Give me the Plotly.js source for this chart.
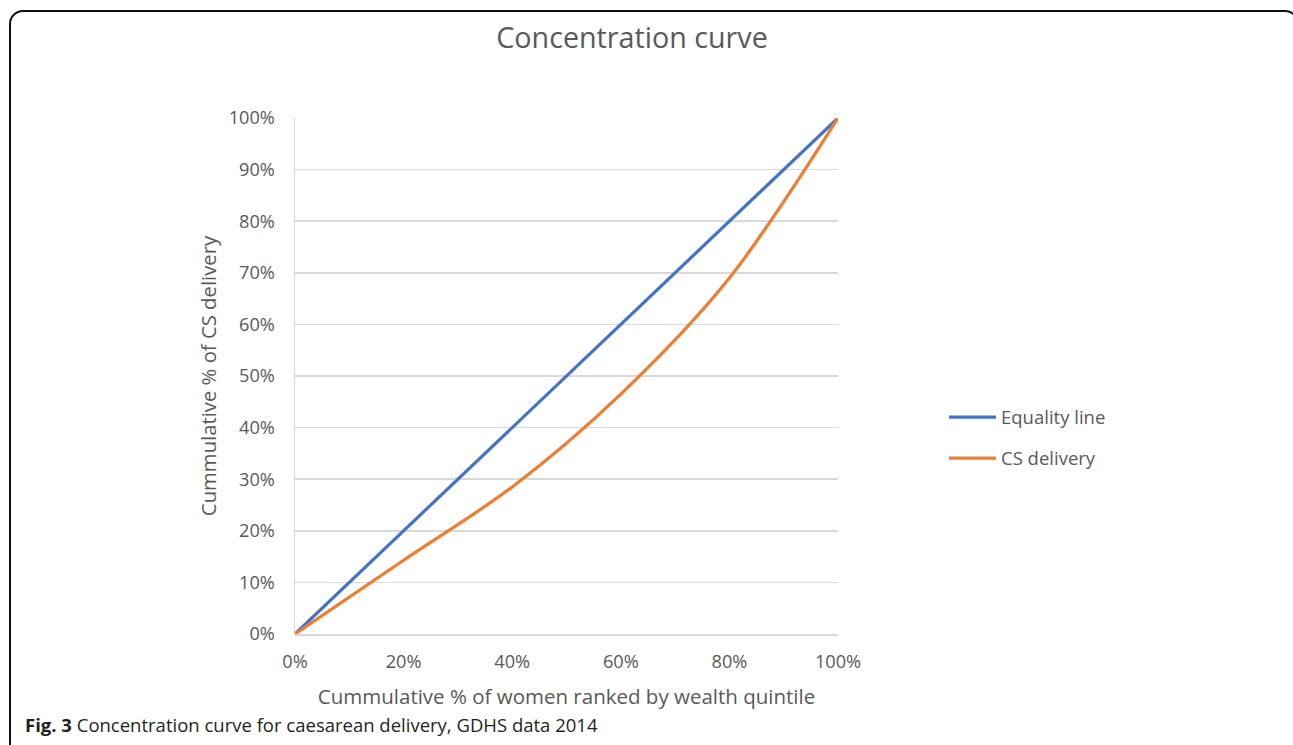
<!DOCTYPE html>
<html>
<head>
<meta charset="utf-8">
<script src="https://cdn.plot.ly/plotly-3.0.1.min.js"></script>
<style>
html,body{margin:0;padding:0;background:#fff;}
#frame{position:absolute;left:9px;top:10px;width:1290px;height:760px;border:2px solid #111;border-radius:14px;box-sizing:border-box;}
#chart{position:absolute;left:0;top:0;width:1293px;height:745px;}
</style>
</head>
<body>
<div id="frame"></div>
<div id="chart"></div>
<script>
const xShare = [0, 20, 40, 60, 80, 100];
const equalityLine = [0, 20, 40, 60, 80, 100];
const csDelivery = [0, 14.3, 28.5, 46.5, 69, 100];
const seriesNames = ['Equality line', 'CS delivery'];
const FONT = 'Open Sans, sans-serif';
const GREY = '#595959';

const traces = [
  {x: xShare, y: equalityLine, name: seriesNames[0], mode: 'lines', legendgroup: 'g1',
   line: {color: '#4472C4', width: 3.2}},
  {x: xShare, y: csDelivery, name: seriesNames[1], mode: 'lines', legendgroup: 'g2',
   line: {color: '#ED7D31', width: 3.2, shape: 'spline', smoothing: 0.9}}
];

const W = 1293, H = 745, L = 295, R = 838, T = 118, B = 634;
const px = v => (v - L) / (R - L);
const py = v => (B - v) / (B - T);

const layout = {
  width: W, height: H,
  margin: {l: L, r: W - R, t: T, b: H - B, pad: 0},
  paper_bgcolor: 'rgba(0,0,0,0)', plot_bgcolor: 'rgba(0,0,0,0)',
  font: {family: FONT, color: GREY, size: 18},
  title: {text: 'Concentration curve', font: {family: FONT, size: 28.7, color: GREY},
          x: 632 / W, xanchor: 'center', xref: 'container', y: 1 - 38 / H, yanchor: 'middle', yref: 'container'},
  xaxis: {range: [0, 100], dtick: 20, tick0: 0, ticksuffix: '%', showgrid: false,
          showline: true, linecolor: '#d9d9d9', linewidth: 1.5, zeroline: false,
          ticks: '', ticklen: 0, ticklabelstandoff: 11, tickfont: {size: 18.2, color: GREY},
          title: {text: 'Cummulative % of women ranked by wealth quintile', font: {size: 20.5, color: GREY}, standoff: 17},
          fixedrange: true},
  yaxis: {range: [0, 100], dtick: 10, tick0: 0, ticksuffix: '%', showgrid: true,
          gridcolor: '#d9d9d9', gridwidth: 1.5, showline: true, linecolor: '#d9d9d9', linewidth: 1.5,
          zeroline: false, ticks: '', ticklabelstandoff: 15, tickfont: {size: 18.2, color: GREY},
          title: {text: 'Cummulative % of CS delivery', font: {size: 20.3, color: GREY}, standoff: 6},
          fixedrange: true},
  showlegend: true,
  legend: {x: px(944), y: py(438), xanchor: 'left', yanchor: 'middle', font: {size: 18.5, color: GREY},
           bgcolor: 'rgba(0,0,0,0)', tracegroupgap: 14, traceorder: 'grouped', itemwidth: 47},
  annotations: [
    {text: '<b>Fig. 3</b> Concentration curve for caesarean delivery, GDHS data 2014',
     xref: 'paper', yref: 'paper', x: px(23), y: py(724.5), xanchor: 'left', yanchor: 'middle',
     showarrow: false, font: {family: FONT, size: 18.5, color: '#231f20'}}
  ]
};

Plotly.newPlot('chart', traces, layout, {displayModeBar: false, staticPlot: true});
</script>
</body>
</html>
